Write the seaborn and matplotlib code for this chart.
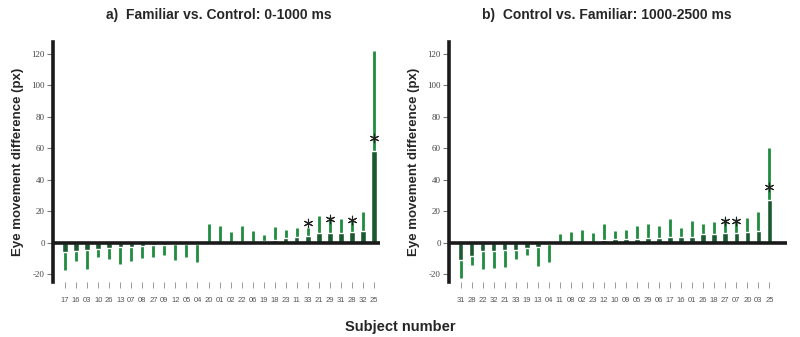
import numpy as np
import pandas as pd
import matplotlib
matplotlib.use("Agg")
import matplotlib.pyplot as plt
import seaborn as sns

# =============================================================================
# Data
# =============================================================================
subjects_a = ["17", "16", "03", "10", "26", "13", "07", "08", "27", "09", "12", "05", "04",
              "20", "01", "02", "22", "06", "19", "18", "23", "11", "33", "21", "29", "31",
              "28", "32", "25"]
mean_a = [-5.7, -5.0, -4.2, -3.6, -3.4, -2.5, -2.5, -2.0, -1.6, -1.2, -1.0, -0.8, -0.6,
          0.2, 0.2, 0.3, 0.4, 0.8, 1.0, 2.1, 3.4, 3.6, 4.4, 6.4, 6.6, 6.6, 6.8, 7.6, 58.5]
range_a = [-17.0, -11.5, -16.6, -9.0, -10.4, -13.6, -11.7, -9.4, -9.0, -7.4, -10.6, -9.0, -12.0,
           12.3, 10.6, 6.8, 10.6, 7.6, 5.3, 10.2, 8.0, 9.7, 9.5, 17.0, 16.5, 15.5, 14.6, 19.7, 122.0]
star_a = {"33": 12.5, "29": 15.0, "28": 14.4, "25": 66.5}

subjects_b = ["31", "28", "22", "32", "21", "33", "19", "13", "04", "11", "08", "02", "23",
              "12", "10", "09", "05", "29", "06", "17", "16", "01", "26", "18", "27", "07",
              "20", "03", "25"]
mean_b = [-10.6, -8.3, -5.1, -5.0, -4.7, -4.2, -3.4, -2.5, -0.5, 0.3, 0.5, 0.8, 0.8,
          1.9, 2.5, 2.8, 2.8, 3.2, 3.4, 3.6, 3.6, 3.8, 5.5, 5.7, 6.4, 6.6, 7.0, 7.4, 27.0]
range_b = [-22.0, -14.2, -16.6, -16.0, -15.3, -10.0, -7.7, -14.7, -12.3, 5.5, 7.2, 8.5, 6.6,
           11.9, 7.6, 8.5, 10.6, 11.9, 10.8, 15.0, 9.7, 13.8, 11.9, 13.3, 15.5, 15.5, 16.0, 19.5, 60.4]
star_b = {"27": 13.8, "07": 13.8, "25": 35.4}

titles = ["a)  Familiar vs. Control: 0-1000 ms", "b)  Control vs. Familiar: 1000-2500 ms"]
yticks = [-20, 0, 20, 40, 60, 80, 100, 120]

DARK = "#1b5a30"
LIGHT = "#1f8c40"

sns.set_style("white")
plt.rcParams["font.family"] = ["Liberation Sans", "DejaVu Sans"]

fig = plt.figure(figsize=(8, 3.37), dpi=100)
W, H = 800, 337
# axes boxes in pixels: (left, right)
boxes = [(53, 380), (449, 787)]
top_px, bot_px = 41.7, 281.5
xlims = [(-1.1, 28.55), (-1.05, 29.6)]
title_x = [0.508, 0.467]

panels = [(subjects_a, mean_a, range_a, star_a), (subjects_b, mean_b, range_b, star_b)]

for i, (subs, means, ranges, stars) in enumerate(panels):
    l, r = boxes[i]
    ax = fig.add_axes([l / W, (H - bot_px) / H, (r - l) / W, (bot_px - top_px) / H])
    df = pd.DataFrame({"subject": subs, "mean": means, "range": ranges})
    pos = np.arange(len(subs))

    # thin line = extent, thick bar = mean difference
    ax.vlines(pos, 0, df["range"], color=LIGHT, lw=2.0, zorder=1)
    sns.barplot(data=df, x="subject", y="mean", order=subs, color=DARK, saturation=1,
                width=0.5, ax=ax, zorder=2)
    ax.axhline(0, color="#1a1a1a", lw=2.6, zorder=3)

    sx = [subs.index(s) for s in stars]
    sy = list(stars.values())
    ax.scatter(sx, sy, marker=(6, 2, 0), s=38, color="#222222", linewidths=0.8, zorder=4)

    ax.set_xlim(*xlims[i])
    ax.set_ylim(-24.5, 127.8)
    ax.set_yticks(yticks)
    ax.set_yticklabels([str(v) for v in yticks], family="Liberation Serif", fontsize=6.5,
                       color="#444444")
    ax.set_xticks(pos)
    ax.set_xticklabels(subs, fontsize=5.5, color="#555555")
    ax.tick_params(axis="x", length=4, width=0.7, color="#999999", pad=7, bottom=True)
    ax.tick_params(axis="y", length=4, width=0.8, color="#777777", pad=2, left=True)

    for s in ["top", "right", "bottom"]:
        ax.spines[s].set_visible(False)
    ax.spines["left"].set_linewidth(2.6)
    ax.spines["left"].set_color("#1a1a1a")

    ax.set_xlabel("")
    ax.set_ylabel("Eye movement difference (px)", fontsize=9.5, fontweight="bold", labelpad=5)
    ax.set_title(titles[i], fontsize=10, fontweight="bold", pad=16, x=title_x[i])

fig.text(0.5, 0.03, "Subject number", ha="center", va="center", fontsize=10.5,
         fontweight="bold")

fig.savefig("out.png", dpi=100)
